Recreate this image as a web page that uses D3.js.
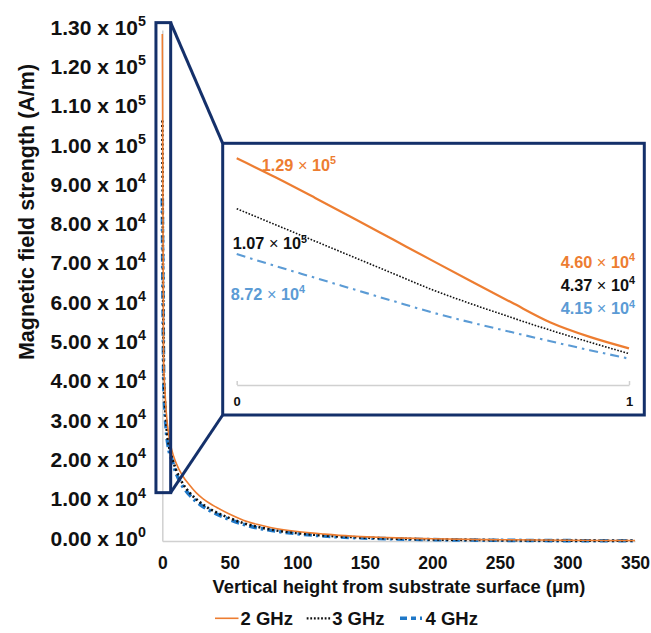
<!DOCTYPE html>
<html>
<head>
<meta charset="utf-8">
<script src="https://cdn.jsdelivr.net/npm/d3@7"></script>
<style>
  html, body { margin: 0; padding: 0; background: #fff; }
  svg { display: block; font-family: "Liberation Sans", Arial, sans-serif; }
</style>
</head>
<body>
<svg id="chart" width="651" height="633"></svg>
<script>
// Heights above the substrate (µm); the first eleven points cover 0–1 µm
const heights = [0, 0.1, 0.2, 0.3, 0.4, 0.5, 0.6, 0.7, 0.8, 0.9, 1,
  2, 3, 5, 7, 10, 15, 20, 25, 30, 35, 40, 50, 60, 70, 80, 100, 120, 140, 160, 180, 200, 250, 300, 350];

// Field strength (A/m) per excitation frequency
const field2GHz = [129000, 120600, 111700, 102600, 93400, 84200, 75100, 66100, 57300, 51000, 46000,
  38000, 32500, 26500, 23200, 20000, 16600, 14300, 12300, 10800, 9600, 8600, 6800, 5300, 4250, 3450,
  2400, 1750, 1250, 950, 720, 560, 320, 190, 110];
const field3GHz = [107000, 99900, 92800, 85700, 78600, 71500, 65300, 59500, 53900, 48700, 43700,
  35000, 29500, 24000, 21500, 18300, 14700, 12400, 10700, 9300, 8200, 7300, 5800, 4550, 3650, 2950,
  2000, 1400, 1000, 730, 540, 400, 210, 110, 60];
const field4GHz = [87200, 81900, 76800, 71700, 66600, 61600, 57200, 53100, 49100, 45200, 41500,
  33000, 28000, 23000, 20800, 17500, 14000, 11800, 10100, 8800, 7800, 6900, 5450, 4250, 3350, 2750,
  1850, 1280, 900, 650, 480, 350, 180, 90, 50];

const seriesNames = ["2 GHz", "3 GHz", "4 GHz"];
const xTicks = [0, 50, 100, 150, 200, 250, 300, 350];
const yTicks = d3.range(0, 130001, 10000);
const insetTicks = [0, 1];

const series = [
  { name: seriesNames[0], values: field2GHz, color: "#ED7D31", insetColor: "#ED7D31",
    width: 1.6, dash: null, insetWidth: 2.2, insetDash: null, legendDash: null },
  { name: seriesNames[1], values: field3GHz, color: "#111", insetColor: "#111",
    width: 2.6, dash: "2,2.6", insetWidth: 1.6, insetDash: "1.6,1.6", legendDash: "1.8,1.8" },
  { name: seriesNames[2], values: field4GHz, color: "#1F78C8", insetColor: "#5B9BD5",
    width: 3.6, dash: "8,4,2.5,4", insetWidth: 2.1, insetDash: "9,5,2.5,5", legendDash: "7,4,5,4,2,3" }
];

const svg = d3.select("#chart");
const font = "Liberation Sans, Arial, sans-serif";

// ---------- main plot ----------
const x = d3.scaleLinear().domain([0, 350]).range([162.3, 635]);
const y = d3.scaleLinear().domain([0, 130000]).range([541, 30.1]);

// "m.mm x 10^e" label with a raised exponent
function sciParts(v) {
  if (v === 0) return { m: "0.00", e: 0 };
  const e = Math.floor(Math.log10(Math.abs(v)) + 1e-9);
  return { m: (v / Math.pow(10, e)).toFixed(2), e: e };
}
function writeSci(textSel, v, timesChar, timesWeight, supSize) {
  const p = sciParts(v);
  textSel.append("tspan").text(p.m + " ");
  textSel.append("tspan").attr("font-weight", timesWeight).text(timesChar);
  textSel.append("tspan").text(" 10");
  textSel.append("tspan").attr("font-size", supSize).attr("dy", "-0.6em").text(p.e);
}

// axis lines (light grey)
const xAxis = d3.axisBottom(x).tickValues(xTicks).tickSize(0).tickPadding(16).tickFormat(d3.format("d"));
const gx = svg.append("g").attr("transform", `translate(0,${y(0)})`).call(xAxis);
gx.select(".domain").attr("stroke", "#d0d0d0").attr("stroke-width", 1.5);
gx.selectAll("text").attr("font-family", font).attr("font-size", 17.5).attr("font-weight", "bold").attr("fill", "#111");

const yAxis = d3.axisLeft(y).tickValues(yTicks).tickSize(0).tickFormat("");
const gy = svg.append("g").attr("transform", `translate(${x(0)},0)`).call(yAxis);
gy.select(".domain").attr("stroke", "#d0d0d0").attr("stroke-width", 1.5);

// y tick labels in scientific notation
const yLab = svg.append("g").attr("font-family", font).attr("font-size", 21)
  .attr("font-weight", "bold").attr("fill", "#111").attr("text-anchor", "end");
yTicks.forEach(t => {
  const tx = yLab.append("text").attr("x", 146).attr("y", y(t) - 3).attr("dy", "0.36em");
  writeSci(tx, t, "x", "bold", "0.68em");
});

// axis titles
svg.append("text").attr("x", 399).attr("y", 593).attr("text-anchor", "middle")
  .attr("font-family", font).attr("font-size", 18.3).attr("font-weight", "bold").attr("fill", "#111")
  .text("Vertical height from substrate surface (μm)");
svg.append("text").attr("transform", "translate(34,212) rotate(-90)").attr("text-anchor", "middle")
  .attr("font-family", font).attr("font-size", 21.5).attr("font-weight", "bold").attr("fill", "#111")
  .text("Magnetic field strength (A/m)");

// curves
const mainLine = d3.line().x((d, i) => x(heights[i])).y(d => y(d)).curve(d3.curveMonotoneX);
const curves = svg.append("g").attr("fill", "none");
series.slice().reverse().forEach(s => {
  curves.append("path").attr("d", mainLine(s.values))
    .attr("stroke", s.color).attr("stroke-width", s.width)
    .attr("stroke-dasharray", s.dash);
});

// ---------- zoom window and callout ----------
const navy = "#14306A";
const zoomX = [-4.7, 6.2];
const zoomY = [12300, 131900];
const boxL = x(zoomX[0]), boxR = x(zoomX[1]), boxT = y(zoomY[1]), boxB = y(zoomY[0]);
svg.append("rect").attr("x", boxL).attr("y", boxT).attr("width", boxR - boxL).attr("height", boxB - boxT)
  .attr("fill", "none").attr("stroke", navy).attr("stroke-width", 3);

const inset = { left: 222.7, top: 143.3, right: 644.3, bottom: 415 };
svg.append("line").attr("x1", boxR).attr("y1", boxT).attr("x2", inset.left).attr("y2", inset.top)
  .attr("stroke", navy).attr("stroke-width", 3);
svg.append("line").attr("x1", boxR).attr("y1", boxB).attr("x2", inset.left).attr("y2", inset.bottom)
  .attr("stroke", navy).attr("stroke-width", 3);
svg.append("rect").attr("x", inset.left).attr("y", inset.top)
  .attr("width", inset.right - inset.left).attr("height", inset.bottom - inset.top)
  .attr("fill", "#fff").attr("stroke", navy).attr("stroke-width", 3);

// ---------- inset: 0–1 µm ----------
const nIn = heights.filter(h => h <= 1).length;
const xi = d3.scaleLinear().domain([0, 1]).range([236.7, 629]);
const yi = d3.scaleLinear().domain([30000, 130000]).range([385, 156]);

const xiAxis = d3.axisBottom(xi).tickValues(insetTicks).tickSizeInner(-4).tickSizeOuter(0)
  .tickPadding(12).tickFormat(d3.format("d"));
const gxi = svg.append("g").attr("transform", `translate(0,${yi(30000)})`).call(xiAxis);
gxi.select(".domain").attr("stroke", "#d0d0d0").attr("stroke-width", 1.5);
gxi.selectAll(".tick line").attr("stroke", "#d0d0d0").attr("stroke-width", 1.5);
gxi.selectAll("text").attr("font-family", font).attr("font-size", 13).attr("font-weight", "bold").attr("fill", "#111");

const insetLine = d3.line().x((d, i) => xi(heights[i])).y(d => yi(d)).curve(d3.curveMonotoneX);
const inCurves = svg.append("g").attr("fill", "none");
series.slice().reverse().forEach(s => {
  inCurves.append("path").attr("d", insetLine(s.values.slice(0, nIn)))
    .attr("stroke", s.insetColor).attr("stroke-width", s.insetWidth)
    .attr("stroke-dasharray", s.insetDash);
});

// value callouts at 0 µm and 1 µm
const startPos = [[261.7, 170.8], [232.7, 249], [230.7, 299.8]];
const endBase = [267.5, 290.8, 314.1];
const labG = svg.append("g").attr("font-family", font).attr("font-size", 16.3).attr("font-weight", "bold");
series.forEach((s, k) => {
  const first = s.values[0];
  const last = s.values[nIn - 1];
  const t0 = labG.append("text").attr("x", startPos[k][0]).attr("y", startPos[k][1]).attr("fill", s.insetColor);
  writeSci(t0, first, "×", "normal", "0.66em");
  const t1 = labG.append("text").attr("x", 635).attr("y", endBase[k]).attr("text-anchor", "end").attr("fill", s.insetColor);
  writeSci(t1, last, "×", "normal", "0.66em");
});

// ---------- legend ----------
const legendPos = [215, 306.7, 400];
const legY = 618.3;
const leg = svg.append("g").attr("font-family", font).attr("font-size", 18.5).attr("font-weight", "bold").attr("fill", "#111");
series.forEach((s, k) => {
  leg.append("line").attr("x1", legendPos[k]).attr("x2", legendPos[k] + 23.5)
    .attr("y1", legY).attr("y2", legY)
    .attr("stroke", s.color).attr("stroke-width", k === 2 ? 3.6 : (k === 1 ? 2.2 : 1.6))
    .attr("stroke-dasharray", s.legendDash);
  leg.append("text").attr("x", legendPos[k] + 25.5).attr("y", legY).attr("dy", "0.36em").text(s.name);
});
</script>
</body>
</html>
